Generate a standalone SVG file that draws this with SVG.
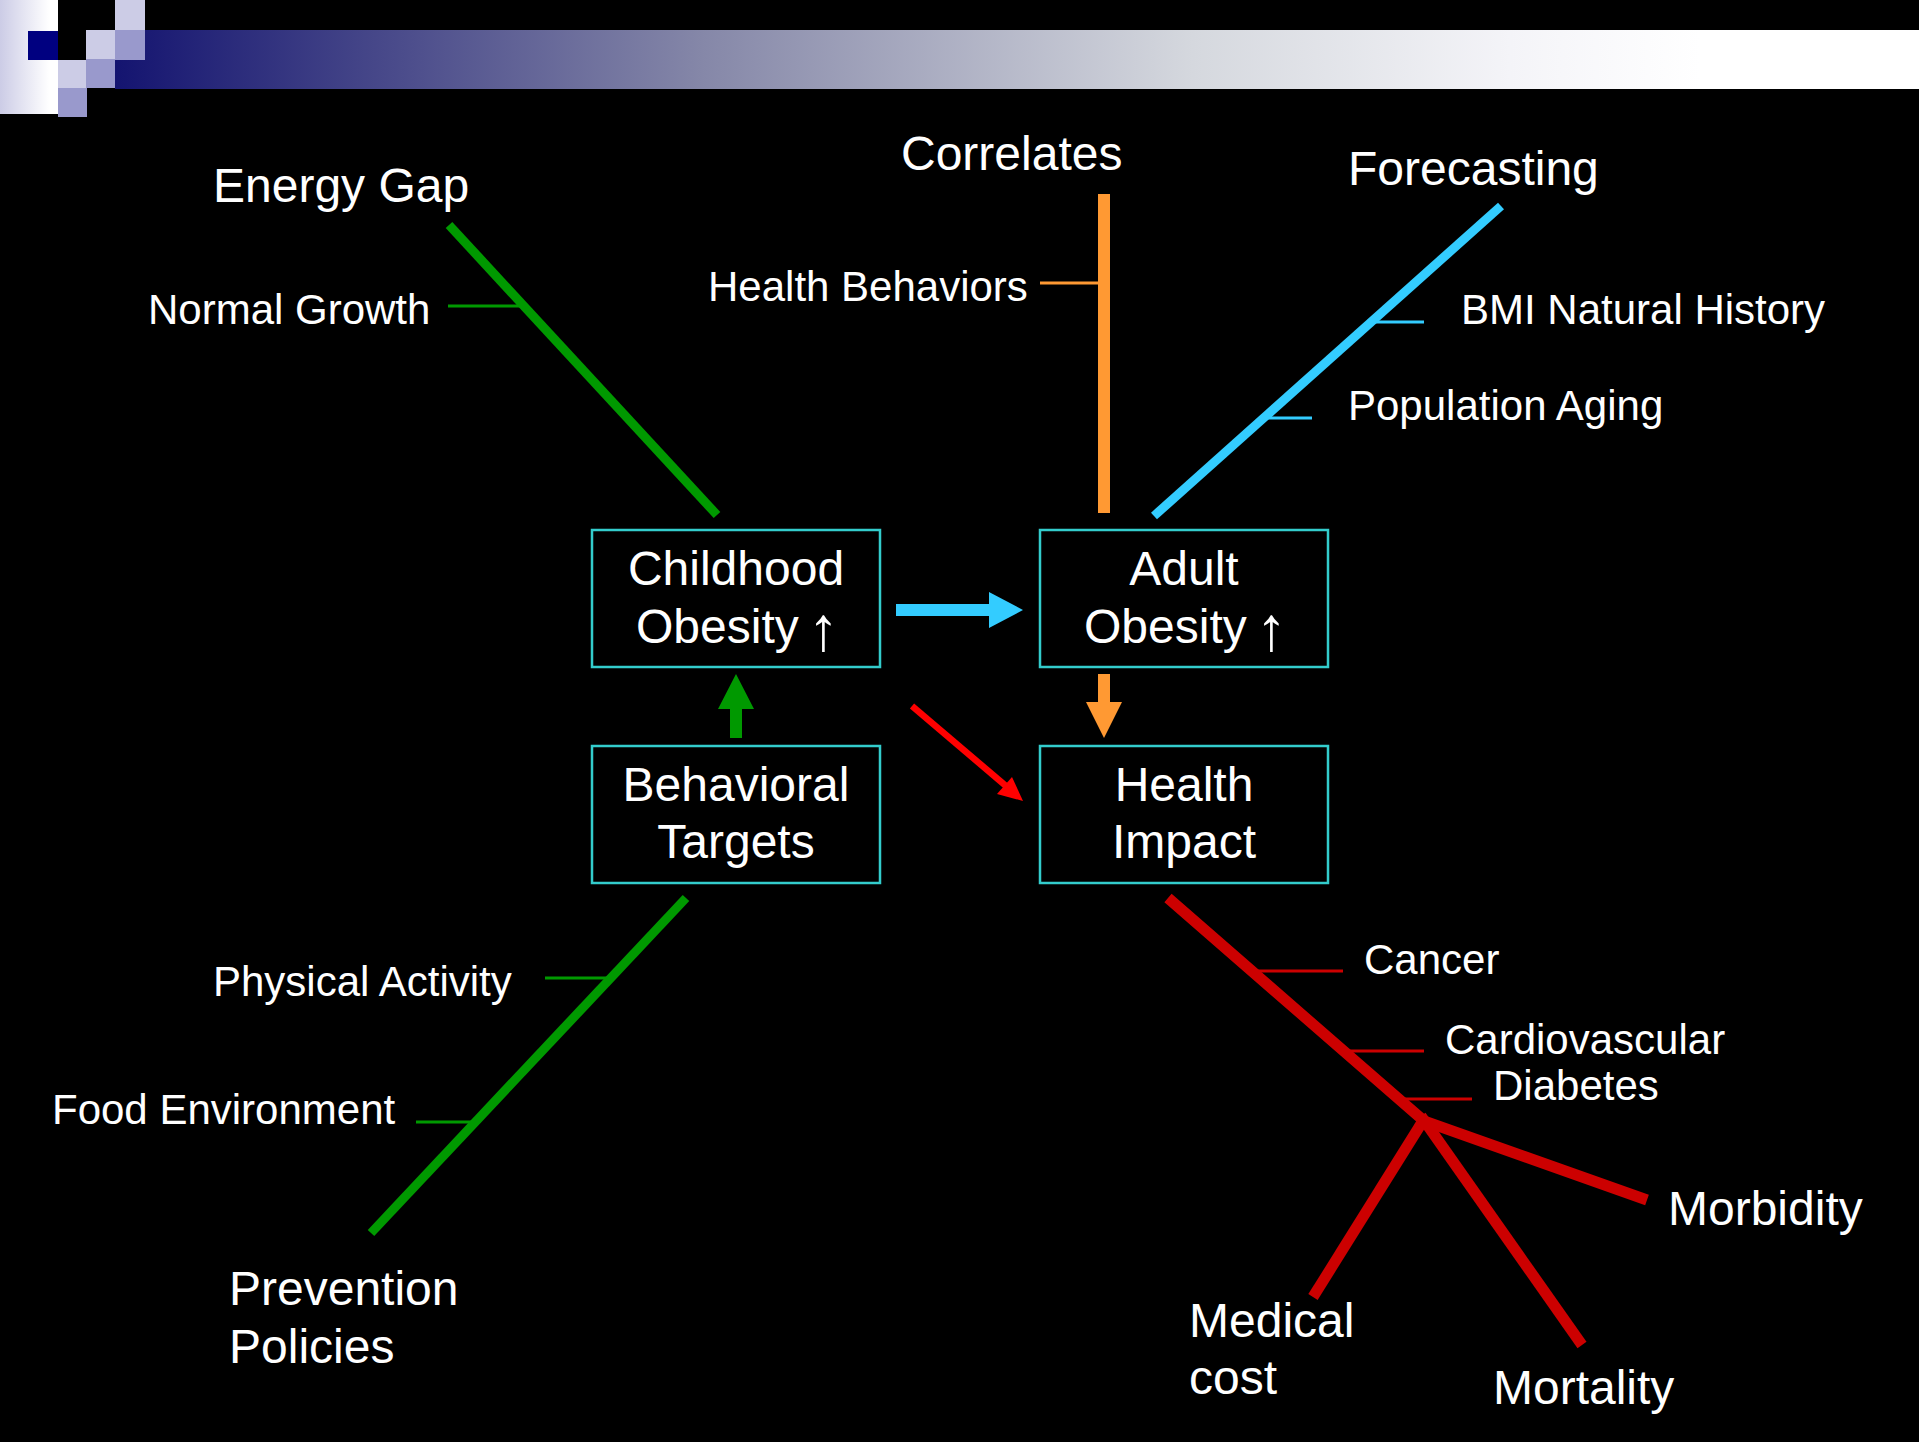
<svg xmlns="http://www.w3.org/2000/svg" width="1919" height="1442" viewBox="0 0 1919 1442">
  <defs>
    <linearGradient id="bandGrad" gradientUnits="userSpaceOnUse" x1="115" y1="0" x2="1700" y2="0">
      <stop offset="0" stop-color="#141470"/>
      <stop offset="0.37" stop-color="#8587a8"/>
      <stop offset="0.68" stop-color="#d5d8de"/>
      <stop offset="0.88" stop-color="#f4f4f8"/>
      <stop offset="1" stop-color="#ffffff"/>
    </linearGradient>
    <linearGradient id="tileGrad" x1="0" y1="0" x2="1" y2="0">
      <stop offset="0" stop-color="#ccccE6"/>
      <stop offset="0.85" stop-color="#ffffff"/>
      <stop offset="1" stop-color="#ffffff"/>
    </linearGradient>
  </defs>
  <style>
    .lbl { font-family: "Liberation Sans", Arial, sans-serif; fill: #ffffff; }
    .big { font-size: 48px; }
    .small { font-size: 42px; }
    .box rect { fill: #000000; stroke: #33cccc; stroke-width: 2.5; }
    .box text { font-family: "Liberation Sans", Arial, sans-serif; font-size: 48px; fill: #ffffff; text-anchor: middle; }
    .box text.left { text-anchor: start; }
    .up { font-size: 62px; }
    .green { stroke: #009900; }
    .orange { stroke: #ff9933; }
    .blue { stroke: #33ccff; }
    .red { stroke: #cc0000; }
    .spine { fill: none; stroke-linecap: butt; }
    .tick { fill: none; stroke-width: 3; }
  </style>

  <rect x="0" y="0" width="1919" height="1442" fill="#000000"/>

  <!-- title band and tile pattern -->
  <g id="header">
    <rect x="115" y="30" width="1804" height="59" fill="url(#bandGrad)"/>
    <rect x="0" y="0" width="58" height="114" fill="url(#tileGrad)"/>
    <rect x="28" y="31" width="30" height="29" fill="#000080"/>
    <rect x="115" y="0" width="30" height="30" fill="#ccccE6"/>
    <rect x="86" y="30" width="29" height="29" fill="#ccccE6"/>
    <rect x="115" y="30" width="30" height="30" fill="#9999cc"/>
    <rect x="58" y="60" width="28" height="28" fill="#ccccE6"/>
    <rect x="86" y="59" width="29" height="29" fill="#9999cc"/>
    <rect x="58" y="88" width="29" height="29" fill="#9999cc"/>
  </g>

  <!-- branch lines, ticks and arrows -->
  <g id="connectors">
    <!-- Energy Gap branch -->
    <line class="spine green" x1="449" y1="225" x2="717" y2="515" stroke-width="9"/>
    <line class="tick green" x1="448" y1="306" x2="522" y2="306" stroke-width="2.5"/>
    <!-- Correlates branch -->
    <line class="spine orange" x1="1104" y1="194" x2="1104" y2="513" stroke-width="12"/>
    <line class="tick orange" x1="1040" y1="283" x2="1100" y2="283"/>
    <!-- Forecasting branch -->
    <line class="spine blue" x1="1154" y1="516" x2="1501" y2="206" stroke-width="9"/>
    <line class="tick blue" x1="1370" y1="322" x2="1424" y2="322"/>
    <line class="tick blue" x1="1263" y1="418" x2="1312" y2="418"/>
    <!-- Prevention Policies branch -->
    <line class="spine green" x1="686" y1="898" x2="371" y2="1233" stroke-width="9"/>
    <line class="tick green" x1="545" y1="978" x2="608" y2="978" stroke-width="2.5"/>
    <line class="tick green" x1="416" y1="1122" x2="473" y2="1122" stroke-width="2.5"/>
    <!-- Health Impact branch -->
    <polyline class="spine red" points="1168,898 1424,1121 1647,1200" stroke-width="11" stroke-linejoin="miter"/>
    <line class="spine red" x1="1426" y1="1116" x2="1313" y2="1297" stroke-width="11"/>
    <line class="spine red" x1="1421" y1="1116" x2="1582" y2="1345" stroke-width="11"/>
    <line class="tick red" x1="1252" y1="971" x2="1343" y2="971"/>
    <line class="tick red" x1="1343" y1="1051" x2="1424" y2="1051"/>
    <line class="tick red" x1="1398" y1="1099" x2="1472" y2="1099"/>

    <!-- arrows between boxes -->
    <polygon fill="#33ccff" points="896,604 989,604 989,592 1023,610 989,628 989,616 896,616"/>
    <polygon fill="#009900" points="730,738 730,709 718,709 736,674 754,709 742,709 742,738"/>
    <polygon fill="#ff9933" points="1098,674 1110,674 1110,702 1122,702 1104,738 1086,702 1098,702"/>
    <line x1="912" y1="706" x2="1006" y2="786" stroke="#ff0000" stroke-width="6.5"/>
    <polygon fill="#ff0000" points="1023,801 997,794 1012,777"/>
  </g>

  <!-- boxes -->
  <g id="childhood-obesity" class="box">
    <rect x="592" y="530" width="288" height="137"/>
    <text x="736" y="585">Childhood</text>
    <text class="left" x="636" y="643">Obesity <tspan class="up" dx="-4" dy="7">↑</tspan></text>
  </g>
  <g id="adult-obesity" class="box">
    <rect x="1040" y="530" width="288" height="137"/>
    <text x="1184" y="585">Adult</text>
    <text class="left" x="1084" y="643">Obesity <tspan class="up" dx="-4" dy="7">↑</tspan></text>
  </g>
  <g id="behavioral-targets" class="box">
    <rect x="592" y="746" width="288" height="137"/>
    <text x="736" y="801">Behavioral</text>
    <text x="736" y="858">Targets</text>
  </g>
  <g id="health-impact" class="box">
    <rect x="1040" y="746" width="288" height="137"/>
    <text x="1184" y="801">Health</text>
    <text x="1184" y="858">Impact</text>
  </g>

  <!-- branch labels -->
  <g id="energy-gap"><text class="lbl big" x="213" y="202">Energy Gap</text></g>
  <g id="normal-growth"><text class="lbl small" x="148" y="324">Normal Growth</text></g>
  <g id="correlates"><text class="lbl big" x="901" y="170">Correlates</text></g>
  <g id="health-behaviors"><text class="lbl small" x="708" y="301">Health Behaviors</text></g>
  <g id="forecasting"><text class="lbl big" x="1348" y="185">Forecasting</text></g>
  <g id="bmi-natural-history"><text class="lbl small" x="1461" y="324">BMI Natural History</text></g>
  <g id="population-aging"><text class="lbl small" x="1348" y="420">Population Aging</text></g>
  <g id="physical-activity"><text class="lbl small" x="213" y="996">Physical Activity</text></g>
  <g id="food-environment"><text class="lbl small" x="52" y="1124">Food Environment</text></g>
  <g id="prevention-policies">
    <text class="lbl big" x="229" y="1305">Prevention</text>
    <text class="lbl big" x="229" y="1363">Policies</text>
  </g>
  <g id="cancer"><text class="lbl small" x="1364" y="974">Cancer</text></g>
  <g id="cardiovascular"><text class="lbl small" x="1445" y="1054">Cardiovascular</text></g>
  <g id="diabetes"><text class="lbl small" x="1493" y="1100">Diabetes</text></g>
  <g id="morbidity"><text class="lbl big" x="1668" y="1225">Morbidity</text></g>
  <g id="medical-cost">
    <text class="lbl big" x="1189" y="1337">Medical</text>
    <text class="lbl big" x="1189" y="1394">cost</text>
  </g>
  <g id="mortality"><text class="lbl big" x="1493" y="1404">Mortality</text></g>
</svg>
